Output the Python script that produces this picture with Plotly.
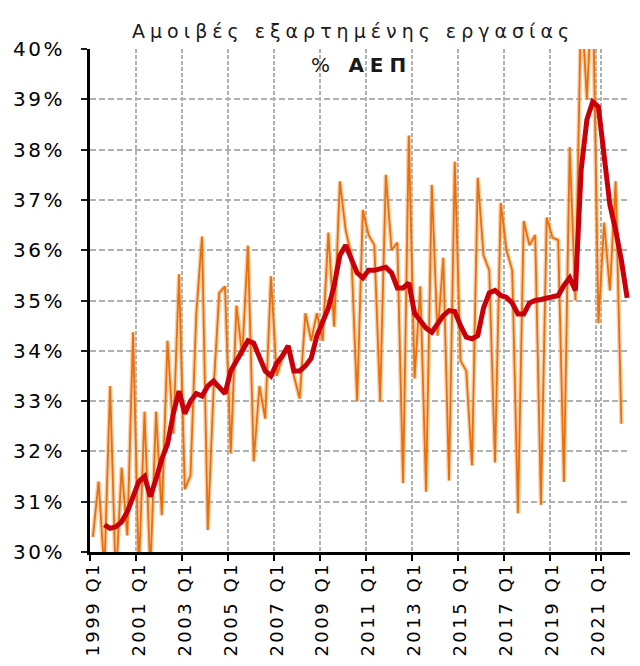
import plotly.graph_objects as go

# ---- categories (quarters 1999 Q1 .. 2022 Q2) ----
YEARS = list(range(1999, 2023))
QUARTERS = [f"{y} Q{q}" for y in YEARS for q in range(1, 5)][:94]

TICK_LABELS = ["1999 Q1", "2001 Q1", "2003 Q1", "2005 Q1", "2007 Q1", "2009 Q1",
               "2011 Q1", "2013 Q1", "2015 Q1", "2017 Q1", "2019 Q1", "2021 Q1"]
Y_TICKS = [30, 31, 32, 33, 34, 35, 36, 37, 38, 39, 40]

# quarterly compensation of employees, % of GDP (orange, thin)
QUARTERLY = [
    30.3, 31.4, 29.6, 33.3, 29.4, 31.68, 30.33, 34.37, 29.6, 32.79,
    29.6, 32.79, 30.73, 34.2, 32.35, 35.52, 31.25, 31.52, 34.73, 36.27,
    30.44, 33.2, 35.15, 35.28, 31.96, 34.9, 33.9, 36.09, 31.8, 33.3,
    32.65, 35.48, 33.5, 33.87, 34.07, 33.5, 33.05, 34.75, 34.2, 34.75,
    34.2, 36.35, 34.48, 37.37, 36.4, 35.9, 33.0, 36.8, 36.3, 36.1,
    33.0, 37.5, 36.0, 36.15, 31.37, 38.28, 33.45, 35.28, 31.2, 37.3,
    34.3, 35.85, 31.42, 37.76, 33.8, 33.6, 31.72, 37.44, 35.9, 35.6,
    31.78, 36.94, 36.0, 35.6, 30.77, 36.58, 36.1, 36.3, 30.94, 36.65,
    36.25, 36.2, 31.39, 38.05, 35.0, 41.0, 39.0, 41.5, 34.55, 36.55,
    35.2, 37.37, 32.55, None,
]

# four-quarter average (red, thick)
AVERAGE = [
    None, None, 30.54, 30.47, 30.5, 30.6, 30.8, 31.1, 31.4, 31.5,
    31.1, 31.45, 31.85, 32.15, 32.75, 33.2, 32.75, 33.0, 33.15, 33.1,
    33.3, 33.4, 33.28, 33.15, 33.6, 33.8, 34.0, 34.2, 34.15, 33.9,
    33.6, 33.5, 33.75, 33.9, 34.1, 33.6, 33.6, 33.7, 33.85, 34.3,
    34.6, 34.85, 35.3, 35.9, 36.1, 35.8, 35.55, 35.45, 35.6, 35.6,
    35.62, 35.66, 35.55, 35.25, 35.25, 35.35, 34.75, 34.6, 34.45, 34.37,
    34.55, 34.7, 34.8, 34.78, 34.5, 34.27, 34.24, 34.3, 34.85, 35.15,
    35.2, 35.1, 35.06, 34.95, 34.73, 34.73, 34.95, 35.0, 35.02, 35.05,
    35.06, 35.1, 35.3, 35.45, 35.2, 37.6, 38.6, 38.95, 38.85, 37.8,
    36.9, 36.4, 35.8, 35.05,
]

FONT = "DejaVu Sans"


def spaced(txt, px):
    return f'<span style="letter-spacing:{px}px">{txt}</span>'


fig = go.Figure()

# soft halo of the quarterly line
fig.add_trace(go.Scatter(
    x=QUARTERS, y=QUARTERLY, mode="lines",
    line=dict(color="rgba(245,168,100,0.55)", width=4.5),
    hoverinfo="skip", showlegend=False,
))
# quarterly line
fig.add_trace(go.Scatter(
    x=QUARTERS, y=QUARTERLY, mode="lines",
    line=dict(color="#E86F0C", width=1.8),
    showlegend=False,
))
# average line
fig.add_trace(go.Scatter(
    x=QUARTERS, y=AVERAGE, mode="lines",
    line=dict(color="#C8000C", width=5),
    showlegend=False,
))

# page body has an 8px default margin, so the figure is sized/offset for it
fig.update_layout(
    width=632, height=658,
    margin=dict(l=82, r=10, t=41, b=114, autoexpand=False),
    paper_bgcolor="white", plot_bgcolor="white",
    font=dict(family=FONT, size=19, color="black"),
    showlegend=False,
    annotations=[
        dict(text=spaced("Αμοιβές εξαρτημένης εργασίας", 5), xref="paper", yref="paper",
             x=0.487, y=1.036, xanchor="center", yanchor="middle", showarrow=False,
             font=dict(family=FONT, size=19, color="#1a1a1a")),
        dict(text=spaced("% <b>ΑΕΠ</b>", 6), xref="paper", yref="paper",
             x=0.502, y=0.968, xanchor="center", yanchor="middle", showarrow=False,
             font=dict(family=FONT, size=20, color="#1a1a1a")),
    ],
)

fig.update_xaxes(
    type="category", categoryorder="array", categoryarray=QUARTERS,
    range=[-0.5, len(QUARTERS) - 0.5], automargin=False,
    tickmode="array", tickvals=TICK_LABELS,
    ticktext=[spaced(t, 2.5) for t in TICK_LABELS],
    tickson="boundaries", tickangle=-90,
    ticks="outside", ticklen=6, tickwidth=2, tickcolor="black",
    showline=True, linecolor="black", linewidth=2.5,
    showgrid=True, gridcolor="#b0b0b0", gridwidth=1.5, griddash="4px,2px",
    tickfont=dict(family=FONT, size=18, color="black"),
    zeroline=False, fixedrange=True,
)

fig.update_yaxes(
    range=[30, 40], tickmode="array", tickvals=Y_TICKS, automargin=False,
    ticktext=[spaced(f"{v}%", 2.5) for v in Y_TICKS],
    ticks="outside", ticklen=6, tickwidth=2, tickcolor="#1a1a2a",
    ticklabelstandoff=12,
    showline=True, linecolor="black", linewidth=3,
    showgrid=True, gridcolor="#b0b0b0", gridwidth=1.5, griddash="6px,3px",
    tickfont=dict(family=FONT, size=20, color="black"),
    zeroline=False, fixedrange=True,
)

fig.write_html("out.html")
